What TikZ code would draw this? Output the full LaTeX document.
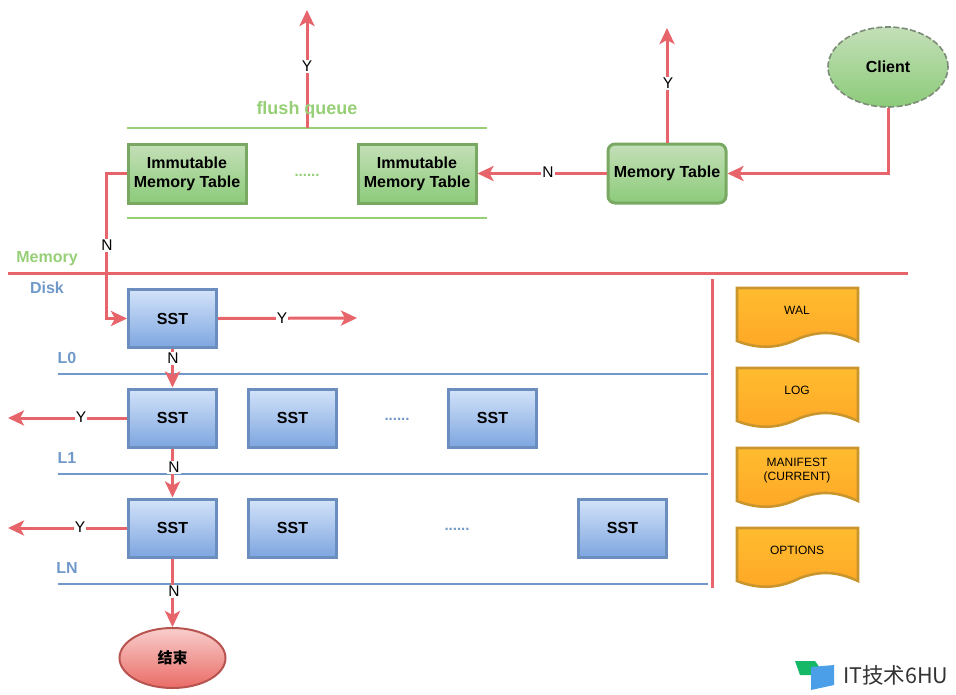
\documentclass[tikz,border=0pt]{standalone}
\usepackage{fontspec}
\setmainfont{Liberation Sans}
\newfontfamily\cjkfont{Noto Sans CJK SC}
\usetikzlibrary{arrows.meta,shapes.geometric}
\definecolor{redl}{HTML}{E8646B}
\definecolor{greent}{HTML}{97CF77}
\definecolor{greentop}{HTML}{C4DFB8}
\definecolor{greenbot}{HTML}{8CCB7A}
\definecolor{greenln}{HTML}{78A862}
\definecolor{bluet}{HTML}{6C8EBF}
\definecolor{bluetop}{HTML}{D3E3F9}
\definecolor{bluebot}{HTML}{7EA6E0}
\definecolor{bluetx}{HTML}{7099C9}
\definecolor{orgtop}{HTML}{FFBC30}
\definecolor{orgbot}{HTML}{FFA726}
\definecolor{orgln}{HTML}{C9962E}
\definecolor{redtop}{HTML}{F8CECC}
\definecolor{redbot}{HTML}{EA6B66}
\definecolor{redln}{HTML}{B85450}
\definecolor{wmgreen}{HTML}{14B866}
\definecolor{wmblue}{HTML}{4A9FE8}
\tikzset{
 x=1pt,y=-1pt,
 flow/.style={draw=redl,line width=3pt,-{Stealth[length=16pt,width=15pt,inset=4pt]}},
 plain/.style={draw=redl,line width=3pt},
 lab/.style={fill=white,inner sep=1pt,font=\fontsize{15.5}{15.5}\selectfont,text=black},
 green box/.style={rectangle,draw=greenln,line width=3pt,top color=greentop,bottom color=greenbot,minimum width=118pt,minimum height=59pt,inner sep=0pt,align=center,font=\fontsize{16}{19}\selectfont\bfseries},
 sstbox/.style={rectangle,draw=bluet,line width=3pt,top color=bluetop,bottom color=bluebot,minimum width=88pt,minimum height=58pt,inner sep=0pt,font=\fontsize{16}{18}\selectfont\bfseries},
 qline/.style={draw=greent,line width=2pt},
 lvl/.style={draw=bluetx,line width=1.6pt},
 glab/.style={text=greent,font=\fontsize{16}{18}\selectfont\bfseries},
 blab/.style={text=bluetx,font=\fontsize{16}{18}\selectfont\bfseries},
 doclab/.style={font=\fontsize{12}{14.5}\selectfont,align=center},
 docfill/.style={draw=orgln,line width=2.6pt,top color=orgtop,bottom color=orgbot},
 dots/.style={font=\fontsize{15}{15}\selectfont\bfseries},
}
\newcommand{\docshape}[1]{%
 \path[docfill] (737,#1) -- (858,#1) -- (858,#1+53) .. controls (838,#1+44) and (822,#1+42) .. (800,#1+50) .. controls (780,#1+60) and (760,#1+62) .. (737,#1+53) -- cycle;
}
\begin{document}
\begin{tikzpicture}
\useasboundingbox (0,0) rectangle (956,694);
% lines
\draw[plain] (8,273) -- (908,273);
\draw[plain] (712,279) -- (712,588);
\draw[qline] (127,128) -- (487,128);
\draw[qline] (127,218) -- (487,218);
\draw[lvl] (58,374) -- (708,374);
\draw[lvl] (58,474) -- (708,474);
\draw[lvl] (58,584) -- (708,584);
% nodes
\node[green box] (im1) at (187,173.5) {Immutable\\Memory Table};
\node[green box] (im2) at (417,173.5) {Immutable\\Memory Table};
\node[green box,rounded corners=7pt] (mt) at (667,173.5) {Memory Table};
\node[ellipse,draw=gray!70!greenln,line width=1.6pt,dashed,dash pattern=on 6pt off 2.5pt,top color=greentop,bottom color=greenbot,minimum width=120pt,minimum height=80pt,inner sep=0pt,font=\fontsize{16}{18}\selectfont\bfseries] (client) at (888,67) {Client};
\coordinate (top1) at (307,10);
\coordinate (q1) at (307,128);
\coordinate (top2) at (667,28);
\node[sstbox] (s0) at (172.5,318.5) {SST};
\node[sstbox] (s1a) at (172.5,418) {SST};
\node[sstbox] (s1b) at (292.5,418) {SST};
\node[sstbox] (s1c) at (492.5,418) {SST};
\node[sstbox] (s2a) at (172.5,528) {SST};
\node[sstbox] (s2b) at (292.5,528) {SST};
\node[sstbox] (s2c) at (622.5,528) {SST};
\node[ellipse,draw=redln,line width=2pt,top color=redtop,bottom color=redbot,minimum width=106pt,minimum height=60pt,inner sep=0pt,font=\cjkfont\fontsize{15}{18}\selectfont\bfseries] (end) at (172.5,658) {结束};
\coordinate (y0) at (357,318);
\coordinate (y1) at (8,418);
\coordinate (y2) at (8,528);
% connectors
\draw[flow] (client.south) |- (mt.east);
\draw[flow] (mt.west) -- (im2.east);
\draw[flow] (mt.north) -- (top2);
\draw[flow] (q1) -- (top1);
\draw[flow] (im1.west) -- ++(-20,0) |- (s0.west);
\draw[flow] (s0.east) -- (y0);
\draw[flow] (s0.south) -- (s1a.north);
\draw[flow] (s1a.south) -- (s2a.north);
\draw[flow] (s2a.south) -- (end.north);
\draw[flow] (s1a.west) -- (y1);
\draw[flow] (s2a.west) -- (y2);
% connector labels
\node[lab] at (307,66.5) {Y};
\node[lab] at (668,83.5) {Y};
\node[lab] at (548,172.5) {N};
\node[lab] at (107,245.5) {N};
\node[lab] at (282,318.5) {Y};
\node[lab] at (173,358.5) {N};
\node[lab] at (81,417.5) {Y};
\node[lab] at (174,467.5) {N};
\node[lab] at (80,527.5) {Y};
\node[lab] at (174,591.5) {N};
% texts
\node[glab,font=\fontsize{18}{18}\selectfont\bfseries] (fq) at (307,110) {flush queue};
\node[glab] (mem) at (47,259) {Memory};
\node[blab] (disk) at (47,288) {Disk};
\node[blab] (l0) at (67,358) {L0};
\node[blab] (l1) at (67,458) {L1};
\node[blab] (ln) at (67,568) {LN};
\node[glab,dots] (d1) at (307,175) {......};
\node[text=bluetx,dots] (d2) at (397,419) {......};
\node[text=bluetx,dots] (d3) at (457,529) {......};
% documents
\docshape{288}
\docshape{368}
\docshape{448}
\docshape{528}
\node[doclab] (wal) at (797,310) {WAL};
\node[doclab] (log) at (797,390) {LOG};
\node[doclab] (man) at (797,470.5) {MANIFEST\\(CURRENT)};
\node[doclab] (opt) at (797,550) {OPTIONS};
% watermark
\fill[wmgreen] (795,661) -- (815,661) -- (820,668) -- (820,675) -- (800,675) -- cycle;
\fill[wmblue] (811,667) -- (834,665) -- (834,685) -- (811,690) -- cycle;
\node[anchor=west,inner sep=0pt,text=black!80,font=\cjkfont\fontsize{21.5}{22}\selectfont] (wm) at (843,675) {IT技术6HU};
\end{tikzpicture}
\end{document}
